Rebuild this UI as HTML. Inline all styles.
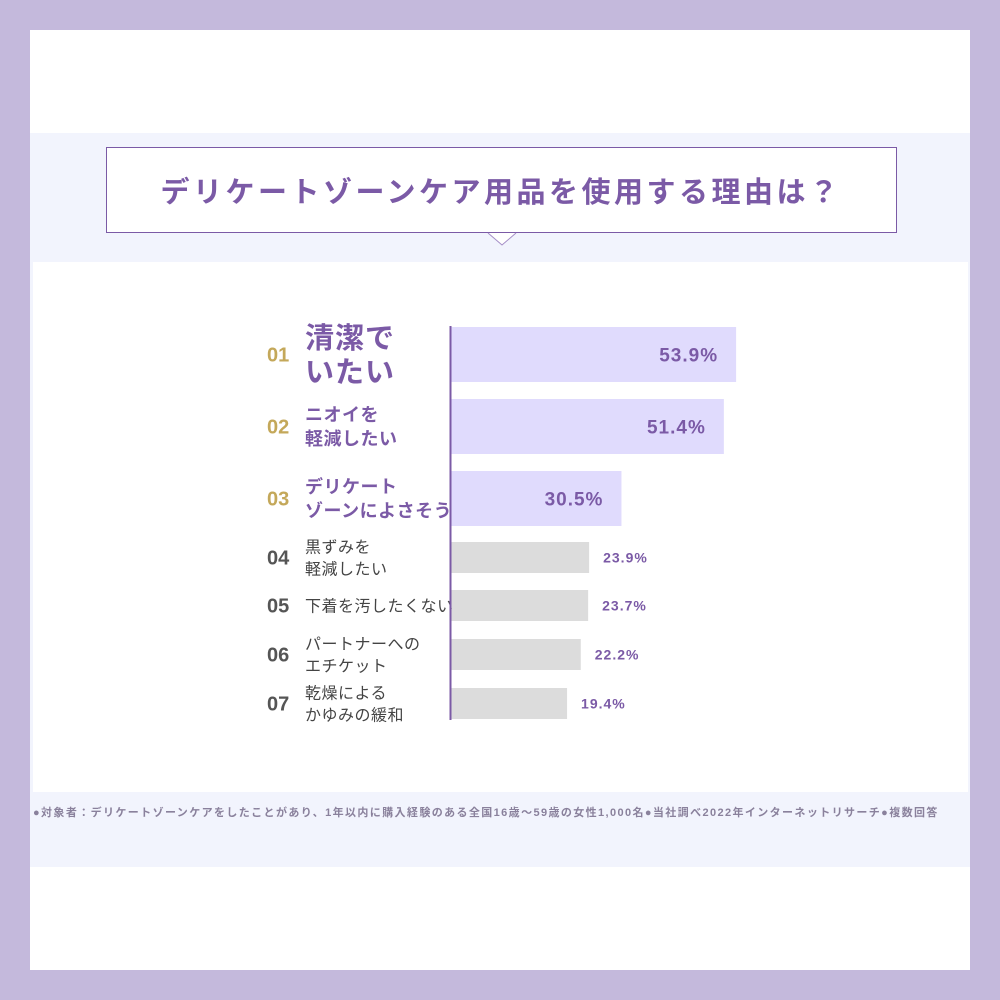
<!DOCTYPE html>
<html><head><meta charset="utf-8">
<style>
body{margin:0;width:1000px;height:1000px;background:#c4b9dc;font-family:"Liberation Sans","Noto Sans CJK JP",sans-serif;overflow:hidden}
#card{position:absolute;left:30px;top:30px;width:940px;height:940px;background:#fff}
svg{position:absolute;left:0;top:0}
</style></head><body>
<div id="card"></div>
<svg width="1000" height="1000">
<rect x="30" y="133" width="940" height="129" fill="#f2f4fd"/>
<rect x="30" y="262" width="3" height="530" fill="#f2f4fd"/>
<rect x="968" y="262" width="2" height="530" fill="#f2f4fd"/>
<rect x="30" y="792" width="940" height="75" fill="#f2f4fd"/>
<rect x="106.5" y="147.5" width="790" height="85" fill="#fff" stroke="#7b5aa6" stroke-width="1"/>
<polyline points="488,233 502,245 516,233" fill="#fff" stroke="#a48cc6" stroke-width="1"/>
<text x="501" y="202" text-anchor="middle" font-size="29" font-weight="bold" fill="#7b5aa6" letter-spacing="3.5">デリケートゾーンケア用品を使用する理由は？</text>
<g id="bars"></g>
<line x1="450.5" y1="326" x2="450.5" y2="720" stroke="#7b5aa6" stroke-width="2"/>
<text x="33" y="816" font-size="11" font-weight="bold" fill="#8a819c" letter-spacing="0.6" textLength="905">●対象者：デリケートゾーンケアをしたことがあり、1年以内に購入経験のある全国16歳〜59歳の女性1,000名●当社調べ2022年インターネットリサーチ●複数回答</text>
</svg>
<script>
const ranks=["01","02","03","04","05","06","07"];
const labels=[["清潔で","いたい"],["ニオイを","軽減したい"],["デリケート","ゾーンによさそう"],["黒ずみを","軽減したい"],["下着を汚したくない"],["パートナーへの","エチケット"],["乾燥による","かゆみの緩和"]];
const values=[53.9,51.4,30.5,23.9,23.7,22.2,19.4];
const ns="http://www.w3.org/2000/svg";
const g=document.getElementById('bars');
function xs(v){return 472+4.9*v;}
const tops=[327,399,471,542,590,639,688];
function mk(t,a){const e=document.createElementNS(ns,t);for(const k in a)e.setAttribute(k,a[k]);return e;}
values.forEach((v,i)=>{
  const big=i<3;const h=big?55:31;const y=tops[i];
  const r=mk('rect',{x:451,y:y,width:xs(v)-451,height:h,fill:big?'#e0dbfd':'#dcdcdc'});
  
  
  g.appendChild(r);
  const cy=y+h/2;
  const vt=mk('text',{x:big?xs(v)-18:xs(v)+14,y:cy+(big?7:5),'text-anchor':big?'end':'start','font-size':big?19:14,'font-weight':'bold',fill:'#7b5aa6','letter-spacing':1});
  vt.textContent=v.toFixed(1)+'%';
  
  
  g.appendChild(vt);
  const rt=mk('text',{x:267,y:cy+7,'font-size':20,'font-weight':'bold',fill:big?'#c4a85a':'#555'});
  rt.textContent=ranks[i];
  
  
  g.appendChild(rt);
  const fs=i==0?29:(big?18:16);const lh=i==0?34:(big?24:22);
  const ls=labels[i];const y0=cy-(ls.length-1)*lh/2+fs*0.36;
  ls.forEach((s,j)=>{
    const t=mk('text',{x:305,y:y0+j*lh,'font-size':fs,'font-weight':big?'bold':'normal',fill:big?'#7b5aa6':'#444','letter-spacing':i==0?1:0.5});
    t.textContent=s;
    
    
    g.appendChild(t);
  });
});
</script>
</body></html>
